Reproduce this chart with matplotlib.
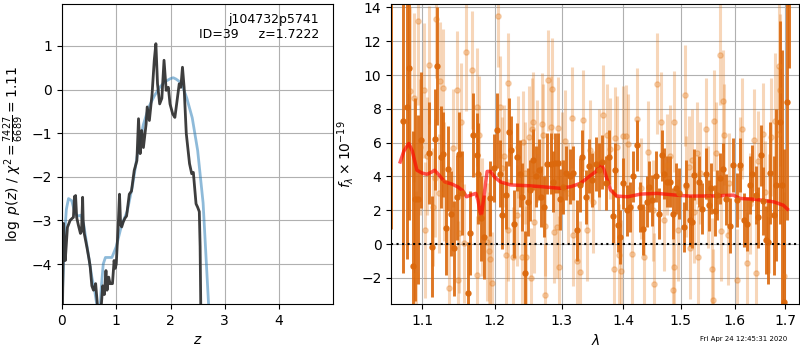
import numpy as np
import matplotlib
matplotlib.use('Agg')
from matplotlib import pyplot as plt
from matplotlib.ticker import FixedLocator, NullLocator, FormatStrFormatter

# p(z) panel
z_pdf = [0.0, 0.01, 0.03, 0.045, 0.06, 0.1, 0.15, 0.19, 0.21, 0.23, 0.24, 0.25, 0.27, 0.3, 0.34, 0.36, 0.38, 0.39, 0.41,
         0.46, 0.5, 0.52, 0.55, 0.58, 0.62, 0.65, 0.67, 0.71, 0.75, 0.78, 0.81, 0.83, 0.86, 0.885, 0.93, 0.96, 0.98, 1.0, 1.04,
         1.06, 1.08, 1.1, 1.13, 1.16, 1.19, 1.24, 1.28, 1.33, 1.38, 1.41, 1.44, 1.47, 1.50, 1.55, 1.57, 1.61,
         1.66, 1.70, 1.73, 1.76, 1.80, 1.84, 1.88, 1.92, 1.96, 1.99, 2.04, 2.08, 2.12, 2.16, 2.19,
         2.22, 2.25, 2.29, 2.35, 2.39, 2.42, 2.47, 2.50, 2.53, 2.545, 2.56]
logp = [-5.2, -4.9, -3.07, -3.6, -3.92, -3.16, -3.0, -2.95, -2.93, -2.45, -2.75, -2.43, -2.93, -3.1, -3.3, -3.25, -2.47, -3.0, -3.3,
        -3.62, -3.9, -4.07, -4.5, -4.6, -4.45, -4.9, -5.3, -5.2, -4.5, -4.7, -4.15, -4.6, -4.3, -4.45, -4.45, -3.92, -4.1, -4.0, -3.0,
        -2.4, -3.1, -3.15, -3.03, -2.95, -2.9, -2.4, -2.33, -1.86, -1.63, -0.67, -1.47, -0.94, -1.33, -0.79, -0.4, -0.71,
        -0.1, 0.67, 1.05, 0.13, -0.33, -0.2, 0.67, -0.02, 0.05, -0.33, -0.56, -0.64, -0.26, 0.13, 0.05,
        0.51, 0.05, -1.01, -1.7, -1.93, -1.9, -2.62, -2.7, -2.8, -3.6, -5.3]

z_prior = [0.0, 0.05, 0.08, 0.12, 0.18, 0.24, 0.3, 0.35, 0.4, 0.45, 0.5, 0.55, 0.6, 0.65, 0.69,
           0.72, 0.76, 0.8, 0.92, 1.0, 1.1, 1.2, 1.3, 1.4, 1.5, 1.6, 1.7, 1.8, 1.9, 2.0,
           2.05, 2.1, 2.2, 2.3, 2.4, 2.5, 2.6, 2.7, 2.75]
logp_prior = [-4.9, -3.3, -2.75, -2.5, -2.55, -2.85, -2.9, -2.88, -3.1, -3.5, -3.9, -4.3, -4.6, -5.0, -5.3,
              -4.6, -4.0, -3.85, -3.85, -3.6, -3.1, -2.8, -2.2, -1.4, -0.8, -0.4, -0.15, 0.05, 0.18, 0.25,
              0.27, 0.24, 0.15, -0.2, -0.65, -1.4, -2.6, -4.9, -5.6]

# spectrum panel, dark points
wave_a = [1.060, 1.0754, 1.0799, 1.0833, 1.0878, 1.0908, 1.0938, 1.0983, 1.1087, 1.1124,
          1.1165, 1.1193, 1.1248, 1.128, 1.1321, 1.1348, 1.1386, 1.1431, 1.1468, 1.150,
          1.1533, 1.1616, 1.1652, 1.1693, 1.174, 1.1762, 1.1799, 1.1844, 1.1937, 1.1982,
          1.2031, 1.2081, 1.2106, 1.2156, 1.2205, 1.2241, 1.228, 1.232, 1.2369, 1.2395,
          1.2444, 1.2489, 1.2519, 1.257, 1.2604, 1.2654, 1.269, 1.2729, 1.278, 1.2829,
          1.287, 1.2904, 1.2945, 1.2979, 1.3021, 1.3074, 1.3128, 1.3183, 1.3248, 1.329,
          1.3328, 1.3382, 1.3435, 1.349, 1.3544, 1.3597, 1.3652, 1.3706, 1.3759, 1.383,
          1.3856, 1.3905, 1.3948, 1.4002, 1.4061, 1.4118, 1.4165, 1.4223, 1.428, 1.4339,
          1.4397, 1.4437, 1.4496, 1.4553, 1.4611, 1.4658, 1.4698, 1.4757, 1.4802, 1.4861,
          1.4918, 1.497, 1.5048, 1.5099, 1.516, 1.5205, 1.5247, 1.5327, 1.539, 1.5452,
          1.5513, 1.5558, 1.5619, 1.5656, 1.5718, 1.5781, 1.5842, 1.5904, 1.5967, 1.6043,
          1.6109, 1.6188, 1.6241, 1.6292, 1.634, 1.6405, 1.6451, 1.6504, 1.6557, 1.6603,
          1.6648, 1.6702, 1.6767, 1.682, 1.6885, 1.6933, 1.6978, 1.7045, 1.708]
flux_a = [15.0, 7.3, 8.1, 10.4, -1.3, 2.65, 2.65, 6.15, 5.4, -0.15,
          6.2, 10.55, 5.15, 5.3, 0.97, 4.47, 1.8, -0.25, 2.76, 5.32,
          3.03, -2.9, 0.67, 6.44, 5.26, 4.17, 1.52, 0.43, 2.7, 4.5,
          6.73, 4.17, 1.7, 2.9, 6.63, 5.55, 1.18, 5.16, 4.17, 2.8,
          -1.73, 2.5, 3.19, 5.0, 4.0, 4.4, 2.8, 2.2, 4.76, 4.76,
          3.7, 4.8, 4.8, 2.64, 3.4, 4.2, 4.0, 4.2, 0.83, 3.5,
          5.16, 2.8, 4.6, 3.77, 4.76, 4.4, 4.86, 3.6, 5.16, 1.65,
          4.4, 1.16, 0.43, 3.6, 2.0, 2.2, 4.0, 5.85, 2.2, 0.87,
          2.5, 3.4, 2.6, 4.0, 1.8, 5.26, 4.17, 3.7, 3.7, 1.8,
          3.29, 3.0, 1.02, 3.5, 1.4, 1.3, 4.1, 3.7, 2.1, 4.17,
          2.3, 3.29, 1.97, 2.9, 3.9, 4.47, 2.64, 1.1, 4.66, 2.6,
          4.7, 1.42, 1.2, 3.5, 4.17, 2.9, 1.6, 5.26, 2.55, 0.24,
          0.14, 4.2, 1.7, 3.5, 7.2, 3.5, -3.4, 8.4, 17.0]
err_a = [14.1, 9.0, 9.0, 9.0, 8.0, 6.0, 5.0, 4.0, 3.0, 3.0,
         3.0, 3.5, 3.0, 2.5, 2.8, 2.5, 2.5, 2.8, 2.5, 2.5,
         2.5, 3.0, 2.5, 2.5, 2.5, 3.0, 2.5, 2.5, 2.2, 2.0,
         2.2, 2.0, 2.0, 2.0, 2.0, 2.0, 2.0, 2.0, 2.0, 2.0,
         2.5, 2.0, 1.8, 1.8, 1.8, 1.8, 1.8, 1.8, 1.8, 1.8,
         1.8, 1.8, 1.8, 1.8, 1.6, 1.6, 1.6, 1.6, 1.8, 1.6,
         1.6, 1.6, 1.6, 1.6, 1.6, 1.6, 1.6, 1.6, 1.6, 1.6,
         1.6, 1.6, 1.6, 1.5, 1.5, 1.5, 1.5, 1.5, 1.5, 1.5,
         1.5, 1.5, 1.5, 1.5, 1.5, 1.5, 1.5, 1.5, 1.5, 1.5,
         1.5, 1.5, 1.5, 1.5, 1.5, 1.5, 1.5, 1.5, 1.5, 1.5,
         1.5, 1.5, 1.5, 1.5, 1.5, 1.5, 1.5, 1.6, 1.6, 1.6,
         1.6, 1.6, 1.6, 1.7, 1.7, 1.7, 1.8, 1.8, 2.0, 2.0,
         2.5, 3.0, 3.5, 4.5, 6.0, 8.0, 9.0, 7.0, 6.6]

# spectrum panel, light points
wave_b = [1.0836, 1.0889, 1.0921, 1.0938, 1.0974, 1.1018, 1.1041, 1.1065, 1.1087, 1.1147,
          1.1165, 1.1179, 1.1224, 1.1234, 1.1271, 1.1293, 1.1362, 1.1409, 1.1464, 1.1478,
          1.150, 1.1523, 1.156, 1.1596, 1.1679, 1.1744, 1.1752, 1.1781, 1.1813, 1.1882,
          1.1914, 1.1937, 1.196, 1.2039, 1.2069, 1.21, 1.2129, 1.2156, 1.2189, 1.2197,
          1.2271, 1.2325, 1.234, 1.2392, 1.241, 1.245, 1.2455, 1.2504, 1.2529, 1.254,
          1.2564, 1.2579, 1.262, 1.2704, 1.2719, 1.2739, 1.2744, 1.2788, 1.2829, 1.2848,
          1.2878, 1.2929, 1.2944, 1.2968, 1.300, 1.3059, 1.31, 1.3167, 1.3183, 1.3236,
          1.329, 1.3345, 1.3409, 1.3451, 1.35, 1.36, 1.3662, 1.3722, 1.3786, 1.3839,
          1.3858, 1.3894, 1.392, 1.3964, 1.4002, 1.4049, 1.4071, 1.4148, 1.4223, 1.43,
          1.435, 1.4419, 1.45, 1.4524, 1.4571, 1.464, 1.4698, 1.475, 1.4814, 1.4858,
          1.4871, 1.4883, 1.494, 1.5067, 1.51, 1.5141, 1.5173, 1.5205, 1.5234, 1.5297,
          1.5309, 1.535, 1.5452, 1.55, 1.5576, 1.5595, 1.5606, 1.5638, 1.5718, 1.5731,
          1.5774, 1.5805, 1.5867, 1.59, 1.6043, 1.61, 1.6142, 1.6241, 1.63, 1.6371,
          1.6405, 1.645, 1.6557, 1.66, 1.6668, 1.6722, 1.6801, 1.6854, 1.6866, 1.69,
          1.6965]
flux_b = [9.05, 8.66, -1.83, 13.2, 5.75, 9.1, 0.83, 5.2, 10.6, 2.2,
          3.9, 13.3, 3.0, 9.65, 9.25, 3.7, -2.6, 5.7, 9.1, -2.13,
          0.63, 7.2, 0.04, 11.35, 10.3, -1.83, 8.1, 6.47, 1.6, 0.14,
          -0.4, -0.9, -2.3, 13.47, 8.1, 4.5, 5.2, -0.65, 9.5, 0.83,
          -0.79, 1.7, 5.75, -0.75, 6.05, 4.2, -0.75, 6.34, -2.03, 6.83,
          7.2, 1.3, 5.5, 7.09, 6.47, 1.1, -3.0, 9.69, 6.93, 9.2,
          0.7, 1.02, 6.87, -1.34, 4.8, 6.1, 3.0, 7.48, 0.55, -0.98,
          -1.63, 7.32, 0.83, 5.55, 2.5, 5.0, 7.62, 6.47, 5.64, -1.5,
          6.3, 5.75, -0.65, -1.57, 6.37, 6.4, 5.9, -0.6, 7.42, 3.3,
          -0.75, 5.45, 2.0, -2.36, 9.49, 7.2, 1.4, 4.7, 5.2, -2.7,
          -1.34, 7.25, 0.83, 8.8, 3.4, 4.55, -0.24, 5.0, 1.9, 5.4,
          -0.75, 4.2, 6.8, 2.8, -1.45, -3.3, 7.3, 5.4, 11.2, 0.8,
          8.45, 6.47, 0.56, 3.6, -2.13, 4.5, 6.83, -1.1, 2.4, 6.15,
          -1.69, 4.9, 6.5, 3.1, 1.8, 6.34, 7.3, 6.5, 10.55, 9.1,
          -1.9]
err_b = [5.0, 5.0, 5.0, 5.0, 4.0, 4.0, 4.0, 3.5, 3.5, 3.5,
         3.5, 3.5, 3.5, 3.5, 3.5, 3.5, 3.5, 3.5, 3.5, 3.5,
         3.5, 3.5, 3.5, 3.5, 3.5, 3.5, 3.5, 3.5, 3.5, 3.5,
         3.5, 3.0, 3.0, 3.0, 3.0, 3.0, 3.0, 3.0, 3.0, 3.0,
         3.0, 3.0, 3.0, 3.0, 3.0, 3.0, 3.0, 3.0, 3.0, 3.0,
         3.0, 3.0, 3.0, 3.0, 3.0, 3.0, 3.0, 3.0, 3.0, 3.0,
         3.0, 3.0, 3.0, 3.0, 3.0, 3.0, 3.0, 3.0, 3.0, 3.0,
         3.0, 3.0, 3.0, 3.0, 3.0, 3.0, 3.0, 3.0, 3.0, 3.0,
         3.0, 3.0, 3.0, 3.0, 3.0, 3.0, 3.0, 3.0, 3.0, 3.0,
         3.0, 3.0, 3.0, 3.0, 3.0, 3.0, 3.0, 3.0, 3.0, 3.0,
         3.0, 3.0, 3.0, 3.0, 3.0, 3.0, 3.0, 3.0, 3.0, 3.0,
         3.0, 3.0, 3.0, 3.0, 3.0, 3.0, 3.0, 3.0, 3.0, 3.0,
         3.0, 3.0, 3.0, 3.0, 3.0, 3.0, 3.0, 3.0, 3.0, 3.0,
         3.0, 3.0, 3.0, 3.0, 3.5, 3.5, 4.0, 4.0, 4.0, 4.5,
         5.0]

# smooth model
wave_m = [1.0713, 1.076, 1.0824, 1.087, 1.093, 1.1, 1.1062, 1.112, 1.1165, 1.122,
          1.13, 1.14, 1.1477, 1.155, 1.16, 1.166, 1.173, 1.176, 1.179, 1.181,
          1.185, 1.189, 1.1937, 1.2, 1.2081, 1.223, 1.25, 1.268, 1.298, 1.315,
          1.33, 1.3475, 1.355, 1.3625, 1.368, 1.3786, 1.389, 1.4075, 1.4296, 1.458,
          1.49, 1.517, 1.56, 1.598, 1.603, 1.611, 1.64, 1.6767, 1.696, 1.7045]
flux_m = [4.86, 5.5, 5.95, 5.5, 4.37, 4.2, 4.13, 4.25, 4.37, 4.1,
          3.68, 3.55, 3.39, 3.15, 2.8, 2.9, 3.0, 2.6, 1.9, 1.7,
          3.0, 4.3, 4.3, 3.95, 3.68, 3.5, 3.45, 3.4, 3.3, 3.4,
          3.6, 4.1, 4.3, 4.8, 4.4, 3.2, 2.84, 2.8, 2.96, 3.0,
          2.9, 2.84, 2.85, 2.9, 2.8, 2.7, 2.65, 2.5, 2.3, 2.07]

lam_ticks = [1.1, 1.2, 1.3, 1.4, 1.5, 1.6, 1.7]

fig = plt.figure(figsize=(8, 3.5), dpi=100)

ax = fig.add_axes([0.0775, 0.131, 0.3385, 0.8576])
ax.plot(z_prior, logp_prior, color='#1f77b4', alpha=0.5, lw=2)
ax.plot(z_pdf, logp, color='0.2', alpha=0.95, lw=2)
ax.set_xlim(0, 4.99)
ax.set_ylim(-4.92, 1.96)
ax.set_xticks([0, 1, 2, 3, 4])
ax.set_yticks([-4, -3, -2, -1, 0, 1])
ax.grid()
ax.set_xlabel('$z$')
ax.set_ylabel(r'$\log\ p(z)$ / $\chi^2=\frac{7427}{6689}=1.11$')
ax.text(0.95, 0.97, 'j104732p5741\nID=39     z=1.7222', transform=ax.transAxes,
        ha='right', va='top', fontsize=9, multialignment='right')

ax2 = fig.add_axes([0.489, 0.131, 0.51, 0.8576])
ax2.errorbar(wave_b, flux_b, yerr=err_b, color='#e57a1a', alpha=0.3, marker='o',
             markersize=3.8, linestyle='none', elinewidth=2.2)
ax2.errorbar(wave_a, flux_a, yerr=err_a, color='#db680c', alpha=0.9, marker='o',
             markersize=3.6, linestyle='none', elinewidth=2.1)
ax2.plot(wave_m, flux_m, color='red', alpha=0.65, lw=2.5)
ax2.axhline(0, color='k', linestyle=':', lw=1.5)
ax2.set_xscale('log')
ax2.xaxis.set_major_locator(FixedLocator(lam_ticks))
ax2.xaxis.set_major_formatter(FormatStrFormatter('%.1f'))
ax2.xaxis.set_minor_locator(NullLocator())
ax2.set_xlim(1.0598, 1.7287)
ax2.set_ylim(-3.55, 14.2)
ax2.grid()
ax2.set_xlabel(r'$\lambda$')
ax2.set_ylabel(r'$f_\lambda\times10^{-19}$')

fig.text(0.93, 0.03, 'Fri Apr 24 12:45:31 2020', ha='center', va='center', fontsize=5)

fig.savefig('out.png', dpi=100)
